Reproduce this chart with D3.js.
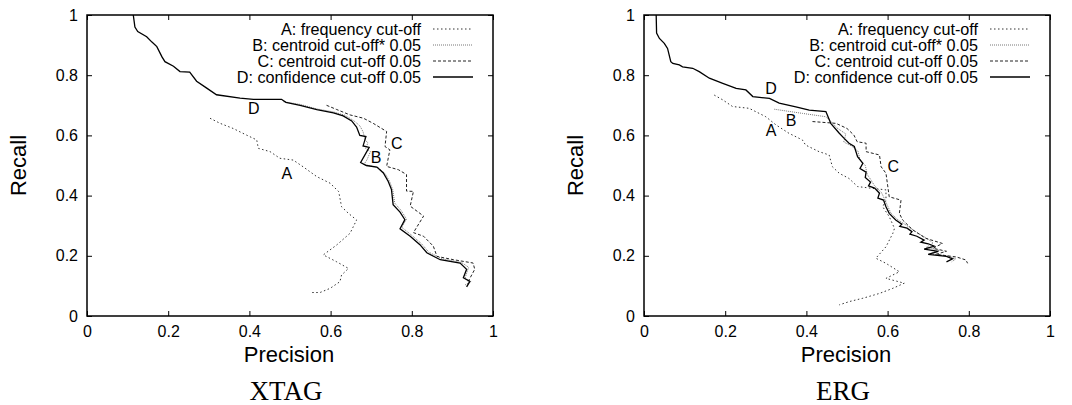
<!DOCTYPE html>
<html>
<head>
<meta charset="utf-8">
<script src="https://cdn.jsdelivr.net/npm/d3@7"></script>
<style>
  body { margin: 0; background: #fff; }
  svg { display: block; }
</style>
</head>
<body>
<svg id="chart"></svg>
<script>
// tick values and labels (same on both axes)
const ticks = [0, 0.2, 0.4, 0.6, 0.8, 1];
const tickLabels = ['0', '0.2', '0.4', '0.6', '0.8', '1'];

const seriesNames = [
  'A: frequency cut-off',
  'B: centroid cut-off* 0.05',
  'C: centroid cut-off 0.05',
  'D: confidence cut-off 0.05'
];

const panelTitles = ['XTAG', 'ERG'];

// [precision, recall]
const xtagA = [[0.303,0.657],[0.328,0.640],[0.360,0.623],[0.393,0.601],[0.418,0.585],[0.422,0.557],[0.451,0.546],
  [0.475,0.524],[0.508,0.518],[0.532,0.496],[0.566,0.463],[0.599,0.441],[0.620,0.413],[0.627,0.363],[0.644,0.341],
  [0.664,0.319],[0.648,0.275],[0.615,0.236],[0.582,0.203],[0.615,0.180],[0.644,0.158],[0.627,0.136],[0.623,0.114],
  [0.599,0.092],[0.574,0.078],[0.550,0.078]];
const xtagB = [[0.484,0.712],[0.525,0.703],[0.566,0.688],[0.607,0.678],[0.635,0.667],[0.656,0.650],[0.672,0.632],
  [0.680,0.612],[0.685,0.585],[0.692,0.575],[0.686,0.557],[0.698,0.546],[0.690,0.520],[0.682,0.503],[0.700,0.498],
  [0.718,0.492],[0.735,0.472],[0.746,0.445],[0.753,0.420],[0.758,0.375],[0.774,0.350],[0.787,0.322],[0.775,0.295],
  [0.800,0.268],[0.824,0.240],[0.842,0.212],[0.875,0.190],[0.922,0.178],[0.940,0.162],[0.931,0.125],[0.946,0.115],
  [0.931,0.103]];
const xtagC = [[0.590,0.700],[0.615,0.686],[0.648,0.668],[0.681,0.657],[0.705,0.640],[0.738,0.613],[0.734,0.563],
  [0.746,0.552],[0.738,0.497],[0.767,0.486],[0.787,0.470],[0.787,0.415],[0.804,0.414],[0.796,0.365],[0.829,0.332],
  [0.804,0.277],[0.829,0.265],[0.853,0.232],[0.862,0.198],[0.903,0.187],[0.951,0.176],[0.955,0.155],[0.939,0.115]];
const xtagD = [[0.114,1.000],[0.118,0.960],[0.125,0.945],[0.147,0.928],[0.160,0.910],[0.172,0.895],[0.185,0.860],
  [0.192,0.845],[0.213,0.830],[0.229,0.812],[0.253,0.810],[0.270,0.780],[0.294,0.758],[0.319,0.735],[0.377,0.724],
  [0.410,0.720],[0.479,0.720],[0.490,0.710],[0.525,0.700],[0.566,0.686],[0.607,0.675],[0.631,0.665],[0.652,0.648],
  [0.664,0.628],[0.672,0.600],[0.687,0.596],[0.680,0.565],[0.695,0.560],[0.674,0.510],[0.688,0.500],[0.714,0.495],
  [0.730,0.475],[0.742,0.447],[0.750,0.420],[0.754,0.370],[0.771,0.345],[0.783,0.320],[0.771,0.290],[0.796,0.265],
  [0.820,0.237],[0.837,0.210],[0.870,0.187],[0.919,0.176],[0.935,0.155],[0.927,0.127],[0.943,0.115],[0.935,0.097]];

const ergA = [[0.173,0.734],[0.194,0.718],[0.218,0.696],[0.259,0.690],[0.300,0.662],[0.325,0.635],[0.357,0.607],
  [0.390,0.585],[0.398,0.568],[0.431,0.546],[0.456,0.535],[0.464,0.496],[0.481,0.474],[0.505,0.457],[0.526,0.430],
  [0.563,0.424],[0.596,0.419],[0.596,0.385],[0.588,0.363],[0.604,0.330],[0.617,0.291],[0.613,0.275],[0.596,0.230],
  [0.571,0.192],[0.596,0.175],[0.629,0.147],[0.596,0.125],[0.641,0.109],[0.613,0.092],[0.580,0.075],[0.539,0.059],
  [0.506,0.048],[0.481,0.037]];
const ergB = [[0.321,0.687],[0.391,0.673],[0.448,0.662],[0.458,0.650],[0.475,0.625],[0.497,0.605],[0.492,0.578],
  [0.510,0.566],[0.527,0.548],[0.532,0.520],[0.545,0.500],[0.550,0.470],[0.560,0.450],[0.568,0.432],[0.585,0.410],
  [0.592,0.390],[0.600,0.366],[0.608,0.342],[0.625,0.320],[0.650,0.298],[0.674,0.276],[0.700,0.255],[0.712,0.242],
  [0.695,0.228],[0.728,0.218],[0.705,0.207],[0.750,0.199],[0.768,0.190],[0.758,0.180]];
const ergC = [[0.415,0.646],[0.473,0.640],[0.500,0.623],[0.517,0.601],[0.525,0.579],[0.547,0.574],[0.547,0.546],
  [0.580,0.535],[0.584,0.496],[0.596,0.474],[0.600,0.435],[0.604,0.396],[0.633,0.385],[0.629,0.341],[0.637,0.319],
  [0.662,0.286],[0.694,0.258],[0.735,0.241],[0.712,0.225],[0.745,0.215],[0.719,0.205],[0.770,0.196],[0.793,0.186],
  [0.797,0.175]];
const ergD = [[0.030,1.000],[0.031,0.940],[0.038,0.922],[0.050,0.906],[0.058,0.889],[0.066,0.845],[0.071,0.839],
  [0.087,0.834],[0.095,0.828],[0.120,0.823],[0.136,0.812],[0.161,0.790],[0.194,0.773],[0.227,0.756],[0.251,0.751],
  [0.268,0.729],[0.309,0.723],[0.333,0.707],[0.374,0.695],[0.407,0.684],[0.448,0.679],[0.460,0.640],[0.481,0.607],
  [0.493,0.590],[0.505,0.574],[0.518,0.563],[0.526,0.529],[0.539,0.507],[0.532,0.490],[0.547,0.478],[0.545,0.460],
  [0.558,0.445],[0.553,0.432],[0.568,0.425],[0.580,0.408],[0.576,0.392],[0.590,0.385],[0.596,0.363],[0.604,0.341],
  [0.620,0.319],[0.635,0.305],[0.630,0.298],[0.648,0.292],[0.660,0.280],[0.655,0.272],[0.672,0.265],[0.690,0.252],
  [0.682,0.245],[0.700,0.240],[0.715,0.232],[0.690,0.222],[0.725,0.215],[0.700,0.205],[0.745,0.198],[0.760,0.190],
  [0.745,0.180]];

// curve labels placed in data coordinates
const xtagLetters = [['A',0.492,0.474],['B',0.712,0.527],['C',0.763,0.574],['D',0.411,0.690]];
const ergLetters = [['A',0.313,0.618],['B',0.362,0.651],['C',0.614,0.496],['D',0.313,0.757]];

const width = 1072, height = 405;
const sans = '"Liberation Sans", Arial, Helvetica, sans-serif';
const serif = '"Liberation Serif", "Times New Roman", serif';

// line styles for A, B, C, D
const styles = [
  { stroke: '#333', dash: '1.5,2.5', w: 1 },
  { stroke: '#777', dash: '1,1', w: 1 },
  { stroke: '#222', dash: '3,2', w: 1 },
  { stroke: '#000', dash: null, w: 1.3 }
];

const svg = d3.select('#chart').attr('width', width).attr('height', height);

function drawPanel(left, series, letters, title) {
  const top = 15, w = 406, h = 301;
  const x = d3.scaleLinear().domain([0, 1]).range([left, left + w]);
  const y = d3.scaleLinear().domain([0, 1]).range([top + h, top]);
  const fmt = (d, i) => tickLabels[i];

  const g = svg.append('g');

  g.append('g')
    .attr('transform', `translate(0,${top + h})`)
    .call(d3.axisBottom(x).tickValues(ticks).tickFormat(fmt).tickSize(-5).tickPadding(10));
  g.append('g')
    .attr('transform', `translate(${left},0)`)
    .call(d3.axisLeft(y).tickValues(ticks).tickFormat(fmt).tickSize(-5).tickPadding(9));
  g.append('g')
    .attr('transform', `translate(0,${top})`)
    .call(d3.axisTop(x).tickValues(ticks).tickFormat('').tickSize(-5));
  g.append('g')
    .attr('transform', `translate(${left + w},0)`)
    .call(d3.axisRight(y).tickValues(ticks).tickFormat('').tickSize(-5));

  g.selectAll('.domain').remove();
  g.selectAll('.tick line').attr('stroke', '#000').attr('stroke-width', 1);
  g.selectAll('.tick text').attr('font-family', sans).attr('font-size', 16).attr('fill', '#000');

  g.append('rect')
    .attr('x', left).attr('y', top).attr('width', w).attr('height', h)
    .attr('fill', 'none').attr('stroke', '#000').attr('stroke-width', 1.5);

  const line = d3.line().x(d => x(d[0])).y(d => y(d[1]));

  series.forEach((s, i) => {
    g.append('path')
      .datum(s)
      .attr('fill', 'none')
      .attr('stroke', styles[i].stroke)
      .attr('stroke-width', styles[i].w)
      .attr('stroke-dasharray', styles[i].dash)
      .attr('d', line);
  });

  // legend, top right inside the frame
  seriesNames.forEach((name, i) => {
    const yy = top + 14 + i * 16;
    g.append('text')
      .attr('x', left + w - 72).attr('y', yy).attr('dy', '0.35em')
      .attr('text-anchor', 'end')
      .attr('font-family', sans).attr('font-size', 16.2)
      .text(name);
    g.append('line')
      .attr('x1', left + w - 60).attr('x2', left + w - 20)
      .attr('y1', yy).attr('y2', yy)
      .attr('stroke', styles[i].stroke)
      .attr('stroke-width', styles[i].w)
      .attr('stroke-dasharray', styles[i].dash);
  });

  letters.forEach(l => {
    g.append('text')
      .attr('x', x(l[1])).attr('y', y(l[2])).attr('dy', '0.35em')
      .attr('text-anchor', 'middle')
      .attr('font-family', sans).attr('font-size', 16)
      .text(l[0]);
  });

  g.append('text')
    .attr('x', left + w / 2 - 1).attr('y', 362)
    .attr('text-anchor', 'middle')
    .attr('font-family', sans).attr('font-size', 22)
    .text('Precision');

  g.append('text')
    .attr('transform', `translate(${left - 61},${top + h / 2}) rotate(-90)`)
    .attr('text-anchor', 'middle')
    .attr('font-family', sans).attr('font-size', 22)
    .text('Recall');

  g.append('text')
    .attr('x', left + w / 2 - 4).attr('y', 400)
    .attr('text-anchor', 'middle')
    .attr('font-family', serif).attr('font-size', 27)
    .text(title);
}

drawPanel(87, [xtagA, xtagB, xtagC, xtagD], xtagLetters, panelTitles[0]);
drawPanel(644, [ergA, ergB, ergC, ergD], ergLetters, panelTitles[1]);
</script>
</body>
</html>
